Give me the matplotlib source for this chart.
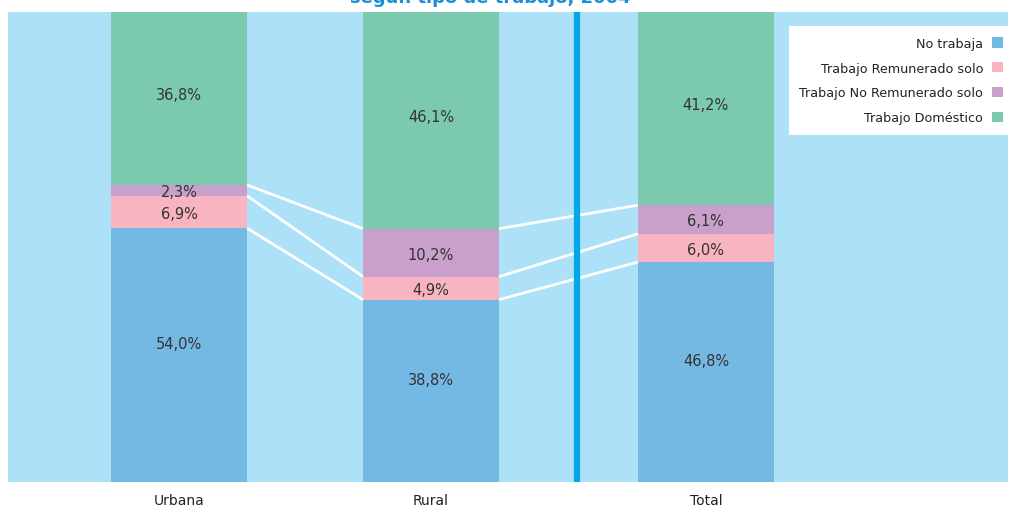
import matplotlib
matplotlib.use("Agg")
import matplotlib.pyplot as plt
from matplotlib.patches import Patch
import numpy as np

# datos
categorias = ["Urbana", "Rural", "Total"]
series = ["No trabaja", "Trabajo Remunerado solo", "Trabajo No Remunerado solo", "Trabajo Doméstico"]
no_trabaja = [54.0, 38.8, 46.8]
remunerado = [6.9, 4.9, 6.0]
no_remunerado = [2.3, 10.2, 6.1]
domestico = [36.8, 46.1, 41.2]
titulo = "según tipo de trabajo, 2004"

colores = ["#74b9e4", "#f8b5c1", "#c9a0cb", "#7ccaae"]
fondo = "#ade1f8"
subir = [8, -1, -1, 3]  # desplazamiento de etiquetas (puntos)

plt.rcParams['font.family'] = ['DejaVu Sans']

fig = plt.figure(figsize=(10.1, 5.1), dpi=100)
ax = fig.add_axes([8/1010, 27/510, 1000/1010, 470/510])
ax.set_facecolor(fondo)

x = np.array([0, 1, 2.091])
ancho = 0.54
valores = [no_trabaja, remunerado, no_remunerado, domestico]
base = np.zeros(3)
limites = []
for vals, col, dy in zip(valores, colores, subir):
    vals = np.array(vals)
    ax.bar(x, vals, ancho, bottom=base, color=col, zorder=2)
    for xi, b, v in zip(x, base, vals):
        ax.annotate(f"{v:.1f}%".replace(".", ","), (xi, b + v/2), xytext=(0, dy),
                    textcoords="offset points", ha="center", va="center",
                    fontsize=10.5, color="#333333", zorder=4)
    base = base + vals
    limites.append(base.copy())

# lineas de conexion
for lim in limites[:3]:
    for i in range(2):
        ax.plot([x[i] + ancho/2, x[i+1] - ancho/2], [lim[i], lim[i+1]],
                color="white", lw=2, zorder=3, solid_capstyle="butt")

# separador entre Rural y Total
ax.axvline((x[1] + x[2]) / 2 + 0.034, color="#00a8e8", lw=4.5, zorder=3)

ax.set_xlim(-0.679, 3.29)
ax.set_ylim(0, 100)
ax.set_yticks([])
ax.set_xticks(x)
ax.set_xticklabels(categorias, fontsize=10, color="#222222")
ax.tick_params(axis="x", length=0, pad=8)
for s in ax.spines.values():
    s.set_visible(False)

handles = [Patch(facecolor=c, edgecolor="none") for c in colores]
leg = ax.legend(handles, series, loc="upper right", bbox_to_anchor=(1.006, 0.97),
                markerfirst=False, frameon=True, fancybox=False, fontsize=9.2,
                handlelength=0.85, handleheight=0.85, handletextpad=0.7,
                labelspacing=0.92, borderpad=0.85, borderaxespad=0)
leg.get_frame().set_facecolor("white")
leg.get_frame().set_edgecolor("none")
leg.get_frame().set_alpha(1)
for t in leg.get_texts():
    t.set_ha("right")
    t.set_color("#222222")
leg._legend_box.align = "right"

fig.text(0.485, 1.004, titulo, ha="center", va="center", fontsize=13,
         fontweight="bold", color="#1a8fd8")

fig.savefig("out.png", dpi=100)
